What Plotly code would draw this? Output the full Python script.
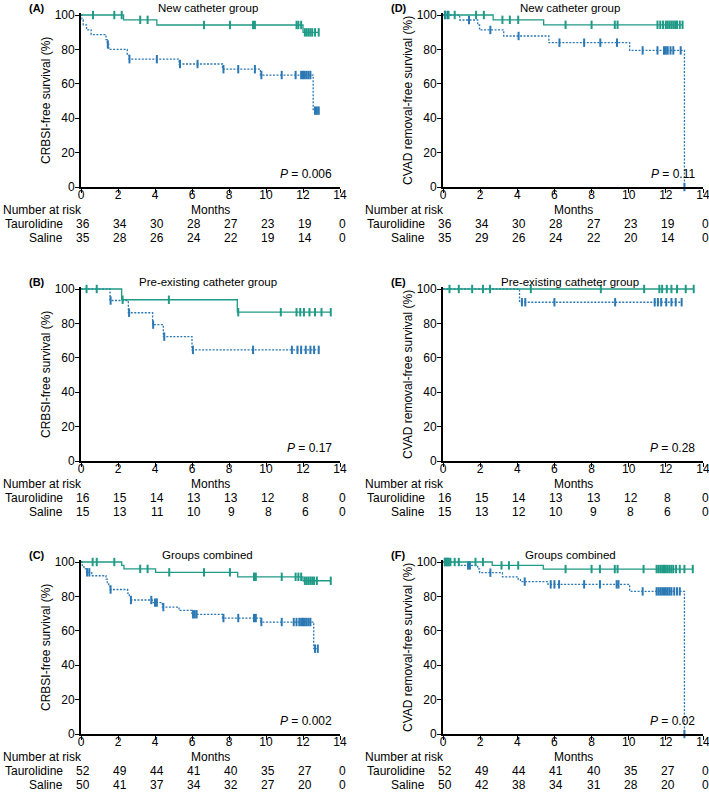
import plotly.graph_objects as go

W, H = 709, 792
GREEN = '#1f9a86'
BLUE = '#2a78b4'
FONT = 'Liberation Sans, Arial, Helvetica, sans-serif'

MONTH_TICKS = [0, 2, 4, 6, 8, 10, 12, 14]
SURV_TICKS = [0, 20, 40, 60, 80, 100]

# ---------------- Panel A : CRBSI, new catheter ----------------
A_tau_times = [2.3, 4.1, 12.0]
A_tau_surv = [97.2, 94.2, 89.9]
A_tau_cens = [0.65, 1.8, 2.2, 3.2, 3.6, 6.65, 8.05, 9.3, 9.4, 11.65, 11.75, 11.9,
              12.1, 12.2, 12.3, 12.4, 12.5, 12.65, 12.85]
A_sal_times = [0.05, 0.12, 0.3, 0.55, 1.35, 1.42, 1.5, 2.5, 2.6, 5.3, 7.65, 9.7, 12.55]
A_sal_surv = [97.1, 94.3, 91.4, 88.6, 85.7, 82.9, 80.0, 77.1, 74.3, 71.5, 68.5, 65.1, 44.4]
A_sal_cens = [1.45, 2.62, 4.1, 5.35, 6.3, 7.7, 8.5, 9.4, 9.75, 10.85, 11.6, 11.9, 12.0,
              12.1, 12.2, 12.3, 12.4, 12.65, 12.75, 12.85]
A_risk_tau = [36, 34, 30, 28, 27, 23, 19, 0]
A_risk_sal = [35, 28, 26, 24, 22, 19, 14, 0]
A_p = '0.006'

# ---------------- Panel B : CRBSI, pre-existing catheter ----------------
B_tau_times = [2.2, 8.45]
B_tau_surv = [93.75, 86.5]
B_tau_cens = [0.3, 0.85, 2.25, 4.75, 8.5, 10.8, 11.65, 11.85, 12.05, 12.35, 12.65, 13.0, 13.5]
B_sal_times = [1.57, 2.56, 3.87, 4.45, 6.0]
B_sal_surv = [93.3, 86.2, 79.3, 72.3, 64.6]
B_sal_cens = [1.6, 2.6, 3.9, 4.5, 6.05, 9.3, 11.4, 11.7, 11.9, 12.15, 12.4, 12.6, 12.85]
B_risk_tau = [16, 15, 14, 13, 13, 12, 8, 0]
B_risk_sal = [15, 13, 11, 10, 9, 8, 6, 0]
B_p = '0.17'

# ---------------- Panel C : CRBSI, groups combined ----------------
C_tau_times = [2.2, 2.32, 4.03, 8.47, 12.0]
C_tau_surv = [98.0, 96.0, 94.0, 91.4, 89.1]
C_tau_cens = [0.63, 0.85, 1.8, 3.2, 3.6, 4.77, 6.65, 8.05, 9.35, 9.45, 10.85, 11.6, 11.75,
              11.9, 12.1, 12.2, 12.3, 12.4, 12.5, 12.6, 12.75, 13.5]
C_sal_times = [0.07, 0.16, 0.3, 0.58, 1.35, 1.42, 1.5, 1.57, 2.52, 2.61, 2.68, 3.85, 4.4,
               5.3, 6.0, 7.65, 9.72, 12.58]
C_sal_surv = [98.0, 96.0, 94.0, 92.0, 90.0, 88.0, 86.0, 84.0, 81.9, 79.8, 77.9, 76.4, 73.8,
              71.9, 69.6, 67.4, 65.1, 49.6]
C_sal_cens = [0.33, 0.45, 1.6, 2.7, 3.8, 4.0, 4.1, 4.45, 6.05, 6.15, 6.25, 7.7, 8.5, 9.35,
              9.45, 9.75, 10.85, 11.5, 11.65, 11.8, 11.9, 12.0, 12.1, 12.2, 12.3, 12.4,
              12.65, 12.8]
C_risk_tau = [52, 49, 44, 41, 40, 35, 27, 0]
C_risk_sal = [50, 41, 37, 34, 32, 27, 20, 0]
C_p = '0.002'

# ---------------- Panel D : CVAD removal, new catheter ----------------
D_tau_times = [2.7, 5.42]
D_tau_surv = [97.2, 94.3]
D_tau_cens = [0.13, 0.3, 0.63, 1.78, 2.2, 3.2, 3.6, 4.05, 6.6, 8.0, 9.25, 9.4, 11.55, 11.7,
              11.85, 12.0, 12.1, 12.2, 12.3, 12.4, 12.5, 12.6, 12.75, 12.9]
D_sal_times = [0.9, 1.87, 1.97, 3.27, 5.7, 10.05, 13.0]
D_sal_surv = [97.1, 94.2, 91.3, 87.8, 83.9, 79.4, 0.0]
D_sal_cens = [0.1, 0.25, 1.4, 2.55, 4.07, 6.27, 7.6, 8.47, 9.37, 10.75, 11.55, 11.9, 12.0,
              12.1, 12.25, 12.4, 12.8, 13.0]
D_risk_tau = [36, 34, 30, 28, 27, 23, 19, 0]
D_risk_sal = [35, 29, 26, 24, 22, 20, 14, 0]
D_p = '0.11'

# ---------------- Panel E : CVAD removal, pre-existing catheter ----------------
E_tau_times = []
E_tau_surv = []
E_tau_cens = [0.35, 0.85, 1.57, 2.15, 2.53, 4.73, 8.5, 10.83, 11.65, 11.8, 12.05, 12.3,
              12.6, 13.07, 13.5]
E_sal_times = [4.12]
E_sal_surv = [92.3]
E_sal_cens = [4.25, 4.43, 6.0, 9.27, 11.4, 11.57, 11.75, 12.02, 12.3, 12.53, 12.85]
E_risk_tau = [16, 15, 14, 13, 13, 12, 8, 0]
E_risk_sal = [15, 13, 12, 10, 9, 8, 6, 0]
E_p = '0.28'

# ---------------- Panel F : CVAD removal, groups combined ----------------
F_tau_times = [2.65, 5.4]
F_tau_surv = [98.0, 95.9]
F_tau_cens = [0.1, 0.2, 0.3, 0.4, 0.63, 0.85, 1.75, 2.15, 3.15, 3.55, 4.05, 6.6, 8.0, 8.45,
              9.25, 9.4, 10.8, 11.5, 11.6, 11.7, 11.8, 11.9, 12.0, 12.1, 12.2, 12.3, 12.4,
              12.55, 12.75, 13.0, 13.45]
F_sal_times = [0.85, 1.87, 1.97, 3.2, 4.05, 4.17, 5.65, 10.05, 13.0]
F_sal_surv = [98.0, 96.0, 93.8, 91.4, 89.8, 88.6, 87.0, 82.9, 0.0]
F_sal_cens = [0.1, 0.2, 0.3, 1.35, 1.45, 2.55, 4.4, 5.8, 6.0, 6.25, 7.6, 8.45, 9.35, 9.45,
              10.75, 11.5, 11.6, 11.7, 11.8, 11.9, 12.0, 12.1, 12.2, 12.3, 12.45, 12.6,
              12.75, 13.0]
F_risk_tau = [52, 49, 44, 41, 40, 35, 27, 0]
F_risk_sal = [50, 42, 38, 34, 31, 28, 20, 0]
F_p = '0.02'

TITLE_NEW = 'New catheter group'
TITLE_PRE = 'Pre-existing catheter group'
TITLE_ALL = 'Groups combined'
YT_LEFT = 'CRBSI-free survival (%)'
YT_RIGHT = 'CVAD removal-free survival (%)'

panels = [
    dict(lab='(A)', col=0, row=0, title=TITLE_NEW, yt=YT_LEFT, p=A_p,
         tau=(A_tau_times, A_tau_surv, A_tau_cens), sal=(A_sal_times, A_sal_surv, A_sal_cens),
         rt=A_risk_tau, rs=A_risk_sal),
    dict(lab='(B)', col=0, row=1, title=TITLE_PRE, yt=YT_LEFT, p=B_p,
         tau=(B_tau_times, B_tau_surv, B_tau_cens), sal=(B_sal_times, B_sal_surv, B_sal_cens),
         rt=B_risk_tau, rs=B_risk_sal),
    dict(lab='(C)', col=0, row=2, title=TITLE_ALL, yt=YT_LEFT, p=C_p,
         tau=(C_tau_times, C_tau_surv, C_tau_cens), sal=(C_sal_times, C_sal_surv, C_sal_cens),
         rt=C_risk_tau, rs=C_risk_sal),
    dict(lab='(D)', col=1, row=0, title=TITLE_NEW, yt=YT_RIGHT, p=D_p,
         tau=(D_tau_times, D_tau_surv, D_tau_cens), sal=(D_sal_times, D_sal_surv, D_sal_cens),
         rt=D_risk_tau, rs=D_risk_sal),
    dict(lab='(E)', col=1, row=1, title=TITLE_PRE, yt=YT_RIGHT, p=E_p,
         tau=(E_tau_times, E_tau_surv, E_tau_cens), sal=(E_sal_times, E_sal_surv, E_sal_cens),
         rt=E_risk_tau, rs=E_risk_sal),
    dict(lab='(F)', col=1, row=2, title=TITLE_ALL, yt=YT_RIGHT, p=F_p,
         tau=(F_tau_times, F_tau_surv, F_tau_cens), sal=(F_sal_times, F_sal_surv, F_sal_cens),
         rt=F_risk_tau, rs=F_risk_sal),
]

# pixel layout
COL_X = [(81, 340), (443, 703)]
ROW_BOTTOM = [187, 461, 734]
PX_PER_UNIT = 1.72
YMAX = 101


def px_x(p):
    return p / W


def px_y(p):
    return 1 - p / H


def surv_at(t, times, surv):
    s = 100.0
    for ti, si in zip(times, surv):
        if ti <= t:
            s = si
    return s


fig = go.Figure()
layout = dict(width=W, height=H, margin=dict(l=0, r=0, t=0, b=0, autoexpand=False),
              paper_bgcolor='white', plot_bgcolor='white', showlegend=False,
              font=dict(family=FONT, size=11, color='black'))
annotations = []

for i, pn in enumerate(panels, start=1):
    xa = 'x' if i == 1 else f'x{i}'
    ya = 'y' if i == 1 else f'y{i}'
    x0, x1 = COL_X[pn['col']]
    yb = ROW_BOTTOM[pn['row']]
    ytop = yb - PX_PER_UNIT * YMAX
    y100 = yb - PX_PER_UNIT * 100
    axis_common = dict(showline=True, linecolor='black', linewidth=1.5, ticks='outside',
                       ticklen=4, tickwidth=1, tickcolor='black', showgrid=False,
                       zeroline=False, tickfont=dict(family=FONT, size=12, color='black'),
                       fixedrange=True, automargin=False, ticklabeloverflow='allow')
    layout['xaxis' if i == 1 else f'xaxis{i}'] = dict(
        axis_common, domain=[px_x(x0), px_x(x1)], range=[0, 14], tickvals=MONTH_TICKS,
        anchor=ya, ticklabelstandoff=-8)
    layout['yaxis' if i == 1 else f'yaxis{i}'] = dict(
        axis_common, domain=[px_y(yb), px_y(ytop)], range=[0, YMAX], tickvals=SURV_TICKS,
        anchor=xa, linewidth=1.8, ticklabelstandoff=-2)

    for key, color, dash in (('sal', BLUE, '2px,1.5px'), ('tau', GREEN, 'solid')):
        times, surv, cens = pn[key]
        end = max(list(times) + list(cens))
        xs = [0] + list(times) + [end]
        ys = [100] + list(surv) + [surv[-1] if surv else 100]
        fig.add_trace(go.Scatter(x=xs, y=ys, mode='lines', line=dict(color=color, width=1.3,
                                 dash=dash, shape='hv'), xaxis=xa, yaxis=ya,
                                 hoverinfo='skip'))
        fig.add_trace(go.Scatter(x=cens, y=[surv_at(t, times, surv) for t in cens],
                                 mode='markers', cliponaxis=False,
                                 marker=dict(symbol='line-ns', size=6,
                                             line=dict(color=color, width=2)),
                                 xaxis=xa, yaxis=ya, hoverinfo='skip'))

    ty = y100 - 7.5
    annotations.append(dict(text=f"<b>{pn['lab']}</b>", x=px_x(x0 - 54), y=px_y(ty),
                            xref='paper', yref='paper', xanchor='left', yanchor='middle',
                            showarrow=False, font=dict(size=11)))
    annotations.append(dict(text=pn['title'], x=px_x((x0 + x1) / 2 - 3), y=px_y(ty),
                            xref='paper', yref='paper', xanchor='center', yanchor='middle',
                            showarrow=False, font=dict(size=11.5)))
    annotations.append(dict(text=pn['yt'], x=px_x(x0 - 35), y=px_y((yb + y100) / 2),
                            xref='paper', yref='paper', xanchor='center', yanchor='middle',
                            textangle=-90, showarrow=False, font=dict(size=12)))
    annotations.append(dict(text=f"<i>P</i> = {pn['p']}", x=13.65, y=7.5, xref=xa, yref=ya,
                            xanchor='right', yanchor='middle', showarrow=False,
                            font=dict(size=12)))
    annotations.append(dict(text='Months', x=7, y=px_y(yb + 23), xref=xa, yref='paper',
                            xanchor='center', yanchor='middle', showarrow=False,
                            font=dict(size=12)))
    annotations.append(dict(text='Number at risk', x=px_x(x0 - 80), y=px_y(yb + 23),
                            xref='paper', yref='paper', xanchor='left', yanchor='middle',
                            showarrow=False, font=dict(size=12)))
    for name, vals, dy in (('Taurolidine', pn['rt'], 37), ('Saline', pn['rs'], 51)):
        annotations.append(dict(text=name, x=px_x(x0 - 16), y=px_y(yb + dy), xref='paper',
                                yref='paper', xanchor='right', yanchor='middle',
                                showarrow=False, font=dict(size=12)))
        for t, v in zip(MONTH_TICKS, vals):
            xp = x0 + (x1 - x0) * t / 14 + 2
            annotations.append(dict(text=str(v), x=px_x(xp), y=px_y(yb + dy), xref='paper',
                                    yref='paper', xanchor='center', yanchor='middle',
                                    showarrow=False, font=dict(size=12)))

layout['annotations'] = annotations
fig.update_layout(**layout)
fig.write_html(
    'out.html',
    config={'displayModeBar': False, 'responsive': False},
    post_script=("document.documentElement.style.margin='0px';"
                 "document.body.style.margin='0px';"
                 "document.documentElement.style.overflow='hidden';"
                 "document.body.style.overflow='hidden';"),
)
